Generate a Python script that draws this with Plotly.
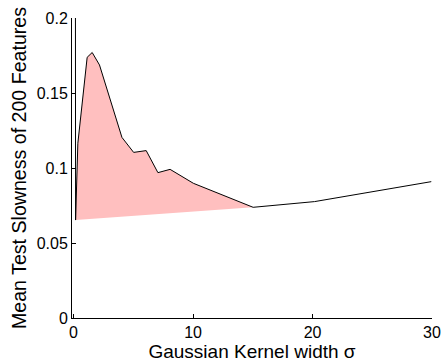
import plotly.graph_objects as go

# Data
sigma = [0.15, 0.17, 0.36, 1.14, 1.56, 2.17, 4.05, 5.03, 6.08, 7.06, 8.08, 10.03, 15.03, 20.17, 29.94]
slowness = [0.30, 0.0653, 0.1165, 0.1738, 0.177, 0.1687, 0.1204, 0.1104, 0.1116, 0.0969, 0.0991, 0.0898, 0.0738, 0.0776, 0.0909]

# region shaded: from the minimum-start point up to sigma = 15
fill_start, fill_end = 1, 12

ytick_vals = [0, 0.05, 0.1, 0.15, 0.2]
ytick_text = ["0", "0.05", "0.1", "0.15", "0.2"]
xtick_vals = [0, 10, 20, 30]
xtick_text = ["0", "10", "20", "30"]

FONT = "Liberation Sans, Arial, sans-serif"

fig = go.Figure()
fig.add_trace(go.Scatter(
    x=sigma[fill_start:fill_end + 1], y=slowness[fill_start:fill_end + 1],
    mode="lines", fill="toself", fillcolor="rgb(255,191,191)",
    line=dict(width=0, color="rgba(0,0,0,0)"), hoverinfo="skip", showlegend=False))
fig.add_trace(go.Scatter(
    x=sigma, y=slowness, mode="lines",
    line=dict(color="black", width=1), showlegend=False))

fig.update_layout(
    width=442, height=362,
    margin=dict(l=72, r=10, t=18, b=44),
    paper_bgcolor="white", plot_bgcolor="white",
    font=dict(family=FONT, size=16, color="black"),
)
fig.update_xaxes(
    range=[-0.13, 30], tickvals=xtick_vals, ticktext=xtick_text,
    ticks="inside", ticklen=4, tickcolor="black", tickwidth=1,
    showline=True, linecolor="black", linewidth=1,
    showgrid=False, zeroline=False, automargin=False,
    tickfont=dict(size=16),
    title=dict(text="Gaussian Kernel width σ", font=dict(size=19), standoff=2),
)
fig.update_yaxes(
    range=[0, 0.2], tickvals=ytick_vals, ticktext=ytick_text,
    ticks="inside", ticklen=4, tickcolor="black", tickwidth=1,
    showline=True, linecolor="black", linewidth=1,
    showgrid=False, zeroline=False, automargin=False,
    tickfont=dict(size=16),
    title=dict(text="Mean Test Slowness of 200 Features", font=dict(size=19.6), standoff=4),
)

fig.write_html("out.html", config={"displayModeBar": False},
               post_script="document.body.style.margin='0';document.body.style.overflow='hidden';")
